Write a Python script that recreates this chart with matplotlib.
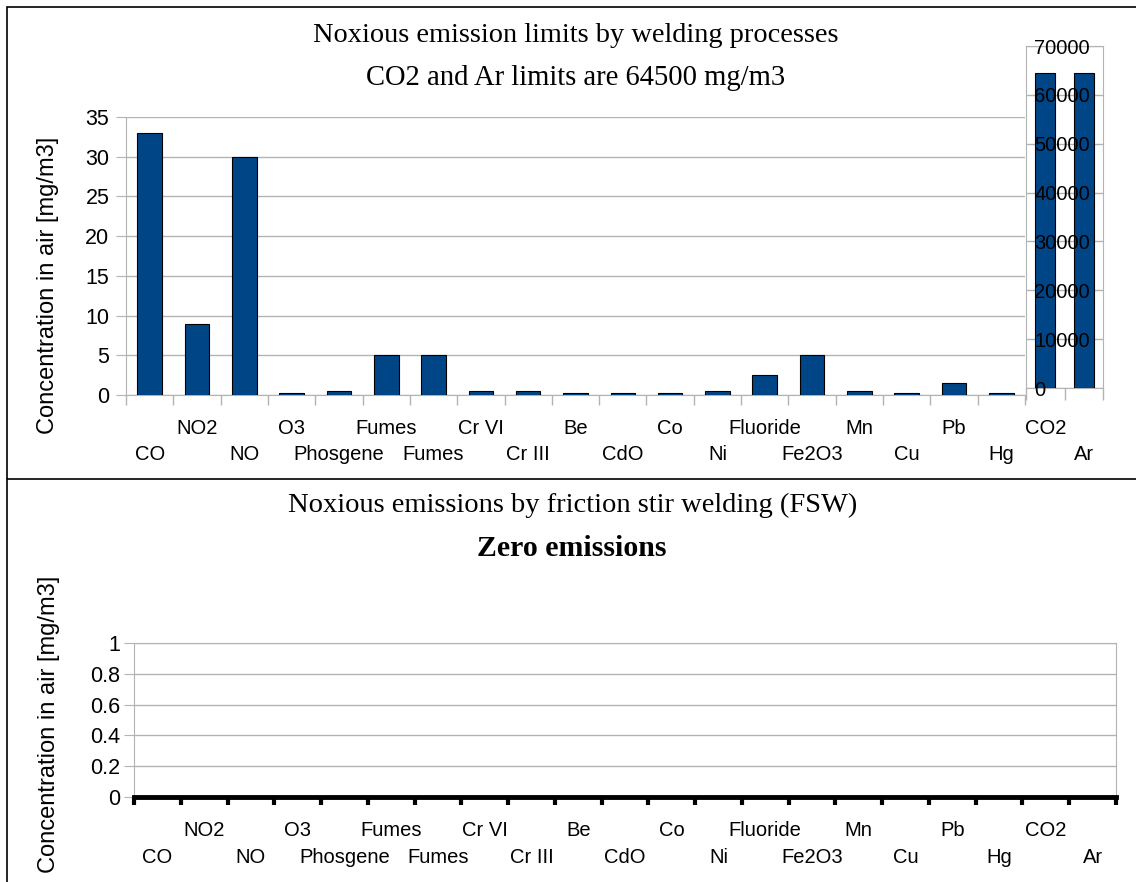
'''
  Noxious emission limits by welding processes vs. friction stir welding.
'''

import matplotlib
matplotlib.use("Agg")
import matplotlib.pyplot as plt
import numpy as np
from matplotlib.patches import Rectangle
from matplotlib.lines import Line2D

###########################################################################

# Data

gases = ["CO", "NO2", "NO", "O3", "Phosgene", "Fumes", "Fumes", "Cr VI",
         "Cr III", "Be", "CdO", "Co", "Ni", "Fluoride", "Fe2O3", "Mn",
         "Cu", "Pb", "Hg"]
limits = [33, 9, 30, 0.2, 0.5, 5, 5, 0.5, 0.5, 0.2, 0.2, 0.2, 0.5, 2.5,
          5, 0.5, 0.2, 1.5, 0.2]

big_gases = ["CO2", "Ar"]
big_limits = [64500, 64500]

all_gases = gases + big_gases
fsw_emissions = [0] * len(all_gases)

###########################################################################

W, H = 1136, 882
BLUE = "#004586"
GRAY = "#b3b3b3"
SANS = "Liberation Sans"
SERIF = "Liberation Serif"
FS = 14.5

plt.rcParams['font.family'] = SANS


def box(l, t, r, b):
    # pixel box -> figure fraction rect
    return [l / W, 1 - b / H, (r - l) / W, (b - t) / H]


def cat_axis(ax, names, pad, row_gap, tick_color, tick_len, tick_w, first=0):
    # tick marks between categories, labels in two staggered rows
    n = len(names)
    idx = np.arange(n)
    ax.set_xlim(-0.5, n - 0.5)
    ax.set_xticks(np.arange(-0.5, n, 1))
    ax.set_xticklabels([])
    ax.tick_params(axis='x', which='major', length=tick_len, width=tick_w,
                   color=tick_color)
    upper = idx[(idx + first) % 2 == 1]
    lower = idx[(idx + first) % 2 == 0]
    ax.set_xticks(upper, [names[i] for i in upper], minor=True, fontsize=FS)
    ax.tick_params(axis='x', which='minor', length=0, pad=pad)
    sec = ax.secondary_xaxis('bottom')
    sec.set_xticks(lower, [names[i] for i in lower], fontsize=FS)
    sec.tick_params(axis='x', length=0, pad=pad + row_gap)
    sec.spines['bottom'].set_visible(False)


fig = plt.figure(figsize=(W / 100, H / 100), dpi=100)

# panel borders
fig.add_artist(Rectangle((7 / W, 1 - 479 / H), 1.2, 472 / H,
                         transform=fig.transFigure, fill=False,
                         edgecolor='black', linewidth=1.2))
fig.add_artist(Line2D([7 / W, 7 / W], [0, 1 - 479 / H],
                      transform=fig.transFigure, color='black',
                      linewidth=1.2))

# titles
fig.text(576 / W, 1 - 35 / H, "Noxious emission limits by welding processes",
         family=SERIF, fontsize=20.4, ha='center', va='center')
fig.text(576 / W, 1 - 78 / H, "CO2 and Ar limits are 64500 mg/m3",
         family=SERIF, fontsize=20.6, ha='center', va='center')
fig.text(573 / W, 1 - 505 / H,
         "Noxious emissions by friction stir welding (FSW)",
         family=SERIF, fontsize=20.5, ha='center', va='center')
fig.text(572 / W, 1 - 548 / H, "Zero emissions", family=SERIF,
         fontsize=21.5, fontweight='bold', ha='center', va='center')

# y labels
fig.text(48 / W, 1 - 285 / H, "Concentration in air [mg/m3]", rotation=90,
         fontsize=17, ha='center', va='center')
fig.text(49 / W, 1 - 724 / H, "Concentration in air [mg/m3]", rotation=90,
         fontsize=17, ha='center', va='center')

# top panel, main axis
ax1 = fig.add_axes(box(126, 117, 1025, 395))
x = np.arange(len(gases))
ax1.bar(x, limits, width=0.52, color=BLUE, edgecolor='black', linewidth=0.8,
        zorder=3)
ax1.set_ylim(0, 35)
ax1.set_yticks(np.arange(0, 36, 5))
ax1.tick_params(axis='y', labelsize=15.5, length=7, color=GRAY, pad=5)
ax1.yaxis.grid(True, color=GRAY, linewidth=1)
ax1.set_axisbelow(True)
for s in ['top', 'right']:
    ax1.spines[s].set_visible(False)
for s in ['left', 'bottom']:
    ax1.spines[s].set_color(GRAY)
cat_axis(ax1, gases, 17, 18.7, GRAY, 7, 1)

# top panel, secondary axis for CO2 and Ar
ax2 = fig.add_axes(box(1026, 46, 1103, 388))
ax2.bar(np.arange(len(big_gases)), big_limits, width=0.52, color=BLUE,
        edgecolor='black', linewidth=0.8, zorder=3)
ax2.set_ylim(0, 70000)
ax2.set_yticks(np.arange(0, 70001, 10000))
ax2.tick_params(axis='y', labelleft=False, length=0)
ax2.yaxis.grid(True, color=GRAY, linewidth=1)
ax2.set_axisbelow(True)
for s in ax2.spines.values():
    s.set_color(GRAY)
cat_axis(ax2, big_gases, 22, 18.7, GRAY, 8.5, 1, first=1)

# tick labels of the secondary axis sit on top of the bars
ax2l = fig.add_axes(box(1026, 46, 1103, 388), zorder=5)
ax2l.patch.set_visible(False)
ax2l.set_ylim(ax2.get_ylim())
yt = np.arange(0, 70001, 10000)
ax2l.set_yticks(yt, [str(v) for v in yt], ha='left')
ax2l.tick_params(axis='y', labelsize=FS, length=0, pad=-6)
ax2l.set_xticks([])
for s in ax2l.spines.values():
    s.set_visible(False)

# bottom panel, friction stir welding
ax3 = fig.add_axes(box(134, 643, 1116, 797))
x3 = np.arange(len(all_gases))
ax3.bar(x3, fsw_emissions, width=0.52, color=BLUE, edgecolor='black')
ax3.set_ylim(0, 1)
yt3 = np.arange(0, 1.01, 0.2)
ax3.set_yticks(yt3, ["0", "0.2", "0.4", "0.6", "0.8", "1"])
ax3.tick_params(axis='y', labelsize=15.5, length=7, color=GRAY, pad=3)
ax3.yaxis.grid(True, color=GRAY, linewidth=1)
ax3.set_axisbelow(True)
for s in ['top', 'right', 'left']:
    ax3.spines[s].set_color(GRAY)
ax3.spines['bottom'].set_color('black')
ax3.spines['bottom'].set_linewidth(3.5)
cat_axis(ax3, all_gases, 17, 19.4, 'black', 6, 3)

fig.savefig("out.png", dpi=100, facecolor='w')
